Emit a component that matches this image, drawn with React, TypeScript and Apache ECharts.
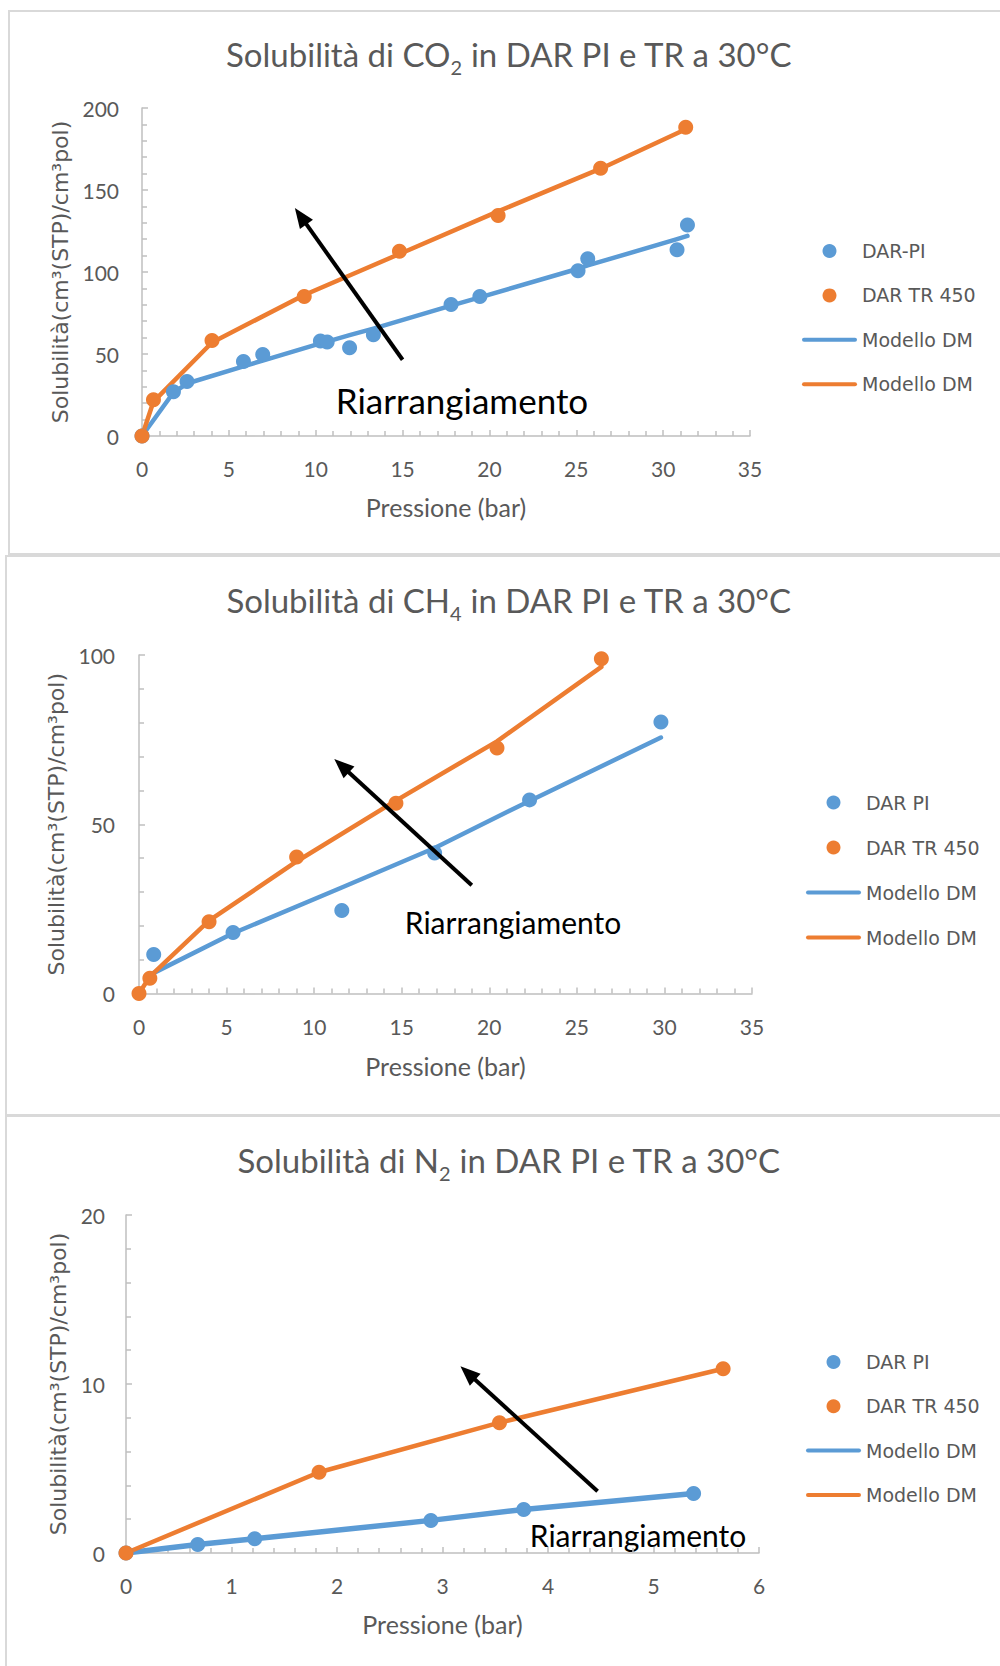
import React, { useEffect, useRef } from "react";
import * as echarts from "echarts";

const BLUE = "#5B9BD5";
const ORANGE = "#ED7D31";
const GRAY_TEXT = "#595959";
const AXIS_GRAY = "#BFBFBF";

// ---------- Chart 1: CO2 ----------
const co2PiP = [0, 1.81, 2.59, 5.84, 6.95, 10.27, 10.66, 11.95, 13.32, 17.79, 19.45, 25.1, 25.66, 30.8, 31.4];
const co2PiS = [0, 27.0, 33.2, 45.4, 49.7, 57.9, 57.3, 53.8, 61.8, 80.2, 85.0, 100.7, 108.1, 113.6, 128.6];
const co2PiModelS = [0, 26.5, 32, 42.5, 46, 56.5, 57.5, 61.5, 65.5, 79.5, 84.5, 102, 104, 120, 122];
const co2TrP = [0, 0.66, 4.03, 9.34, 14.82, 20.5, 26.4, 31.3];
const co2TrS = [0, 22.1, 58.3, 85.0, 112.6, 134.5, 163.2, 188.3];
const co2TrModelS = [0, 21, 57, 86, 111, 137, 163, 187];
const co2Arrow = [15, 46.5, 8.8, 139];

// ---------- Chart 2: CH4 ----------
const ch4PiP = [0.84, 5.37, 11.58, 16.88, 22.3, 29.8];
const ch4PiS = [11.5, 18.0, 24.5, 41.5, 57.2, 80.2];
const ch4PiModelP = [0.62, 5.37, 11.58, 16.88, 22.3, 29.8];
const ch4PiModelS = [5.5, 17.8, 31.3, 43, 56.9, 75.6];
const ch4TrP = [0, 0.62, 4.0, 9.0, 14.67, 20.44, 26.4];
const ch4TrS = [0, 4.5, 21.2, 40.3, 56.2, 72.5, 98.9];
const ch4TrModelS = [0, 5, 21.5, 39, 57, 74.5, 96.5];
const ch4Arrow = [19, 32, 11.15, 69.3];

// ---------- Chart 3: N2 ----------
const n2PiP = [0, 0.68, 1.22, 2.89, 3.77, 5.38];
const n2PiS = [0, 0.5, 0.84, 1.93, 2.58, 3.52];
const n2PiModelS = [0, 0.5, 0.84, 1.93, 2.58, 3.52];
const n2TrP = [0, 1.83, 3.54, 5.66];
const n2TrS = [0, 4.78, 7.71, 10.9];
const n2TrModelS = [0, 4.78, 7.71, 10.9];
const n2Arrow = [4.47, 3.65, 3.17, 11.05];

const xTicks1 = { min: 0, max: 35, interval: 5 };
const yTicks1 = { min: 0, max: 200, interval: 50 };
const xTicks2 = { min: 0, max: 35, interval: 5 };
const yTicks2 = { min: 0, max: 100, interval: 50 };
const xTicks3 = { min: 0, max: 6, interval: 1 };
const yTicks3 = { min: 0, max: 20, interval: 10 };

const LINE_ICON = "path://M2,0 L53,0 A2,2 0 0 1 53,4 L2,4 A2,2 0 0 1 2,0 Z";

const zip = (a: number[], b: number[]) => a.map((v, i) => [v, b[i]]);

const arrowRender = (params: any, api: any) => {
  const p1 = api.coord([api.value(0), api.value(1)]);
  const p2 = api.coord([api.value(2), api.value(3)]);
  const dx = p2[0] - p1[0];
  const dy = p2[1] - p1[1];
  const len = Math.hypot(dx, dy);
  const ux = dx / len;
  const uy = dy / len;
  const headLen = 20;
  const headHalf = 8;
  const bx = p2[0] - ux * headLen;
  const by = p2[1] - uy * headLen;
  return {
    type: "group",
    children: [
      {
        type: "line",
        shape: { x1: p1[0], y1: p1[1], x2: bx + ux * 3, y2: by + uy * 3 },
        style: { stroke: "#000", lineWidth: 4 },
      },
      {
        type: "polygon",
        shape: {
          points: [
            [p2[0], p2[1]],
            [bx - uy * headHalf, by + ux * headHalf],
            [bx + uy * headHalf, by - ux * headHalf],
          ],
        },
        style: { fill: "#000" },
      },
    ],
  };
};

const makeX = (idx: number, t: any, nameGap: number) => ({
  type: "value",
  gridIndex: idx,
  min: t.min,
  max: t.max,
  interval: t.interval,
  name: "Pressione (bar)",
  nameLocation: "middle",
  nameGap,
  nameTextStyle: { fontFamily: "Lato", fontSize: 25, color: GRAY_TEXT },
  axisLine: { show: true, onZero: false, lineStyle: { color: AXIS_GRAY, width: 1.5 } },
  axisTick: { show: true, inside: true, length: 6, lineStyle: { color: AXIS_GRAY, width: 1.5 } },
  minorTick: { show: true, splitNumber: 5, length: 5, lineStyle: { color: AXIS_GRAY, width: 1.5 } },
  splitLine: { show: false },
  minorSplitLine: { show: false },
  axisLabel: { margin: 22, fontFamily: "Lato", fontSize: 21, color: GRAY_TEXT },
});

const makeY = (idx: number, t: any, nameGap: number, labelMargin: number) => ({
  type: "value",
  gridIndex: idx,
  min: t.min,
  max: t.max,
  interval: t.interval,
  name: "Solubilità(cm³(STP)/cm³pol)",
  nameLocation: "middle",
  nameGap,
  nameTextStyle: { fontFamily: "DejaVu Sans", fontSize: 22, color: GRAY_TEXT },
  axisLine: { show: true, onZero: false, lineStyle: { color: AXIS_GRAY, width: 1.5 } },
  axisTick: { show: true, inside: true, length: 6, lineStyle: { color: AXIS_GRAY, width: 1.5 } },
  minorTick: { show: true, splitNumber: 5, length: 5, lineStyle: { color: AXIS_GRAY, width: 1.5 } },
  splitLine: { show: false },
  minorSplitLine: { show: false },
  axisLabel: { margin: labelMargin, fontFamily: "Lato", fontSize: 21, color: GRAY_TEXT },
});

const makeSeries = (
  idx: number,
  piName: string,
  piP: number[],
  piS: number[],
  piModelP: number[],
  piModelS: number[],
  trP: number[],
  trS: number[],
  trModelS: number[],
  arrow: number[],
  blueWidth: number
) => [
  {
    type: "line",
    name: "Modello DM",
    xAxisIndex: idx,
    yAxisIndex: idx,
    data: zip(piModelP, piModelS),
    symbol: "none",
    showSymbol: false,
    lineStyle: { color: BLUE, width: blueWidth, cap: "round", join: "round" },
    itemStyle: { color: BLUE },
    z: 2,
  },
  {
    type: "line",
    name: "Modello DM ",
    xAxisIndex: idx,
    yAxisIndex: idx,
    data: zip(trP, trModelS),
    symbol: "none",
    showSymbol: false,
    lineStyle: { color: ORANGE, width: 4.5, cap: "round", join: "round" },
    itemStyle: { color: ORANGE },
    z: 2,
  },
  {
    type: "scatter",
    name: piName,
    xAxisIndex: idx,
    yAxisIndex: idx,
    data: zip(piP, piS),
    symbol: "circle",
    symbolSize: 15,
    itemStyle: { color: BLUE, opacity: 1 },
    z: 3,
  },
  {
    type: "scatter",
    name: "DAR TR 450",
    xAxisIndex: idx,
    yAxisIndex: idx,
    data: zip(trP, trS),
    symbol: "circle",
    symbolSize: 15,
    itemStyle: { color: ORANGE, opacity: 1 },
    z: 4,
  },
  {
    type: "custom",
    name: "arrow" + idx,
    xAxisIndex: idx,
    yAxisIndex: idx,
    coordinateSystem: "cartesian2d",
    data: [arrow],
    encode: { x: [0, 2], y: [1, 3] },
    renderItem: arrowRender,
    silent: true,
    z: 5,
  },
];

const makeLegend = (piName: string, left: number, top: number, gap: number) => ({
  orient: "vertical",
  left,
  top,
  padding: 0,
  itemWidth: 55,
  itemHeight: 14,
  itemGap: gap,
  selectedMode: false,
  symbolKeepAspect: true,
  data: [
    { name: piName, icon: "circle" },
    { name: "DAR TR 450", icon: "circle" },
    { name: "Modello DM", icon: LINE_ICON },
    { name: "Modello DM ", icon: LINE_ICON },
  ],
  textStyle: { fontFamily: "DejaVu Sans", fontSize: 19, color: GRAY_TEXT, lineHeight: 20 },
});

const titleText = (sub: string, gas: string, rest: string, x: number, y: number) => ({
  type: "text",
  x,
  y,
  silent: true,
  style: {
    text: `{a|Solubilità di ${gas}}{s|${sub}}{a|${rest}}`,
    align: "center",
    verticalAlign: "middle",
    rich: {
      a: { fontFamily: "Lato", fontSize: 33, fill: GRAY_TEXT, lineHeight: 42 },
      s: { fontFamily: "Lato", fontSize: 20, fill: GRAY_TEXT, lineHeight: 42, padding: [26, 0, 0, 0] },
    },
  },
});

const noteText = (x: number, y: number, size: number) => ({
  type: "text",
  x,
  y,
  silent: true,
  style: {
    text: "Riarrangiamento",
    fontFamily: "Lato",
    fontSize: size,
    fill: "#000",
    align: "center",
    verticalAlign: "middle",
  },
});

const panel = (x: number, y: number, h: number) => ({
  type: "rect",
  silent: true,
  z: -10,
  shape: { x, y, width: 1100, height: h },
  style: { fill: "none", stroke: "#D9D9D9", lineWidth: 2 },
});

export default function App() {
  const ref = useRef<HTMLDivElement>(null);
  useEffect(() => {
    if (!ref.current) return;
    const chart = echarts.init(ref.current, null, { renderer: "svg" });
    chart.setOption({
      animation: false,
      backgroundColor: "#fff",
      grid: [
        { left: 142, top: 108, width: 608, height: 328 },
        { left: 139, top: 655, width: 613, height: 338.5 },
        { left: 126, top: 1215, width: 633, height: 338 },
      ],
      xAxis: [makeX(0, xTicks1, 58), makeX(1, xTicks2, 60), makeX(2, xTicks3, 58)],
      yAxis: [makeY(0, yTicks1, 70, 23), makeY(1, yTicks2, 69, 24), makeY(2, yTicks3, 57, 21)],
      legend: [
        makeLegend("DAR-PI", 802, 241, 24.4),
        makeLegend("DAR PI", 806, 792.5, 25),
        makeLegend("DAR PI", 806, 1352, 24.3),
      ],
      series: [
        ...makeSeries(0, "DAR-PI", co2PiP, co2PiS, co2PiP, co2PiModelS, co2TrP, co2TrS, co2TrModelS, co2Arrow, 4.5),
        ...makeSeries(1, "DAR PI", ch4PiP, ch4PiS, ch4PiModelP, ch4PiModelS, ch4TrP, ch4TrS, ch4TrModelS, ch4Arrow, 4.5),
        ...makeSeries(2, "DAR PI", n2PiP, n2PiS, n2PiP, n2PiModelS, n2TrP, n2TrS, n2TrModelS, n2Arrow, 5.5),
      ],
      graphic: [
        panel(9, 11, 543),
        panel(6, 556, 559),
        panel(6, 1116, 600),
        titleText("2", "CO", " in DAR PI e TR a 30°C", 509, 54),
        titleText("4", "CH", " in DAR PI e TR a 30°C", 509, 600),
        titleText("2", "N", " in DAR PI e TR a 30°C", 509, 1160),
        noteText(462, 400, 35),
        noteText(513, 922, 30),
        noteText(638, 1535, 30),
      ],
    });
    return () => chart.dispose();
  }, []);
  return (
    <div
      ref={ref}
      style={{ position: "absolute", left: 0, top: 0, width: 1000, height: 1666 }}
    />
  );
}
